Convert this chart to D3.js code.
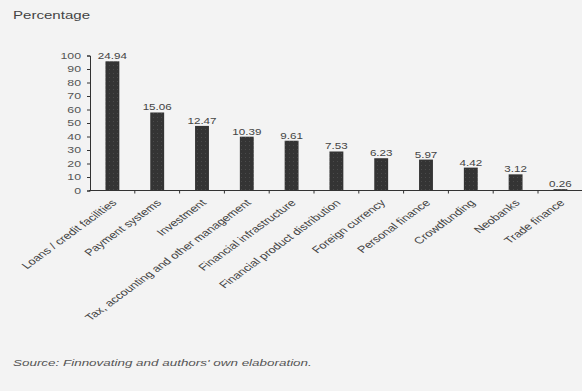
<!DOCTYPE html>
<html>
<head>
<meta charset="utf-8">
<script src="https://cdn.jsdelivr.net/npm/d3@7"></script>
<style>
  body { margin: 0; background: #f3f3f3; }
  text { font-family: "Liberation Sans", Arial, sans-serif; }
</style>
</head>
<body>
<div id="chart"></div>
<script>
// Data
const categories = ["Loans / credit facilities", "Payment systems", "Investment",
  "Tax, accounting and other management", "Financial infrastructure",
  "Financial product distribution", "Foreign currency", "Personal finance",
  "Crowdfunding", "Neobanks", "Trade finance"];
const values = [24.94, 15.06, 12.47, 10.39, 9.61, 7.53, 6.23, 5.97, 4.42, 3.12, 0.26];
const tickLabels = [0, 10, 20, 30, 40, 50, 60, 70, 80, 90, 100];

const width = 582, height = 391;
const margin = {top: 55.5, left: 90, bottom: 200.5, right: 0};
const sx = 1.37; // the original picture is stretched horizontally

const svg = d3.select("#chart").append("svg")
  .attr("width", width)
  .attr("height", height);

svg.append("rect").attr("width", width).attr("height", height).attr("fill", "#f3f3f3");

// dotted texture for bars
const pat = svg.append("defs").append("pattern")
  .attr("id", "dots").attr("width", 4).attr("height", 4)
  .attr("patternUnits", "userSpaceOnUse");
pat.append("rect").attr("width", 4).attr("height", 4).attr("fill", "#343434");
pat.append("rect").attr("x", 1).attr("y", 1).attr("width", 1).attr("height", 1).attr("fill", "#4a4a4a");

const x = d3.scaleBand()
  .domain(categories)
  .range([margin.left, margin.left + 44.8 * categories.length])
  .paddingInner(0.69)
  .paddingOuter(0.345);

// axis labels (0-100) and the bar value scale share the same pixel range
const yAxisScale = d3.scaleLinear().domain([0, 100]).range([height - margin.bottom, margin.top]);
const y = d3.scaleLinear().domain([0, 26.06]).range([height - margin.bottom, margin.top]);

// Title
svg.append("text")
  .attr("transform", `translate(13, 19) scale(${sx}, 1)`)
  .attr("font-size", 11)
  .attr("fill", "#444")
  .text("Percentage");

// Y axis
const yAxis = svg.append("g")
  .attr("transform", `translate(${margin.left}, 0)`)
  .call(d3.axisLeft(yAxisScale).tickValues(tickLabels).tickSize(3));
yAxis.select(".domain").attr("stroke", "#333");
yAxis.selectAll(".tick line").attr("stroke", "#333");
yAxis.selectAll("text")
  .attr("x", -9 / sx)
  .attr("transform", `scale(${sx}, 1)`)
  .attr("font-size", 9).attr("fill", "#555")
  .attr("font-family", "Liberation Sans, Arial, sans-serif");

// X axis
const baseY = yAxisScale(0);
svg.append("line")
  .attr("x1", margin.left - 1).attr("x2", width)
  .attr("y1", baseY).attr("y2", baseY)
  .attr("stroke", "#333").attr("stroke-width", 1.2);

svg.append("g").selectAll("line")
  .data(categories.slice(1))
  .join("line")
  .attr("x1", d => x(d) - x.step() * x.paddingInner() / 2)
  .attr("x2", d => x(d) - x.step() * x.paddingInner() / 2)
  .attr("y1", baseY).attr("y2", baseY + 3)
  .attr("stroke", "#333");

// Bars
svg.append("g").selectAll("rect")
  .data(values)
  .join("rect")
  .attr("x", (d, i) => x(categories[i]))
  .attr("width", x.bandwidth())
  .attr("y", d => y(d))
  .attr("height", d => y(0) - y(d))
  .attr("fill", "url(#dots)");

// Value labels
svg.append("g").selectAll("text")
  .data(values)
  .join("text")
  .attr("transform", (d, i) => `translate(${x(categories[i]) + x.bandwidth() / 2}, ${y(d) - 2}) scale(${sx}, 1)`)
  .attr("text-anchor", "middle")
  .attr("font-size", 8.5)
  .attr("fill", "#444")
  .text(d => d.toFixed(2));

// Category labels
svg.append("g").selectAll("text")
  .data(categories)
  .join("text")
  .attr("text-anchor", "end")
  .attr("font-size", 9.5)
  .attr("fill", "#444")
  .attr("transform", d => `translate(${x(d) + x.bandwidth() / 2 + 5}, ${baseY + 13}) scale(${sx}, 1) rotate(-45)`)
  .text(d => d);

// Source
svg.append("text")
  .attr("transform", `translate(13, 366) scale(${sx}, 1)`)
  .attr("font-size", 9.8)
  .attr("font-style", "italic")
  .attr("fill", "#555")
  .text("Source: Finnovating and authors' own elaboration.");
</script>
</body>
</html>
